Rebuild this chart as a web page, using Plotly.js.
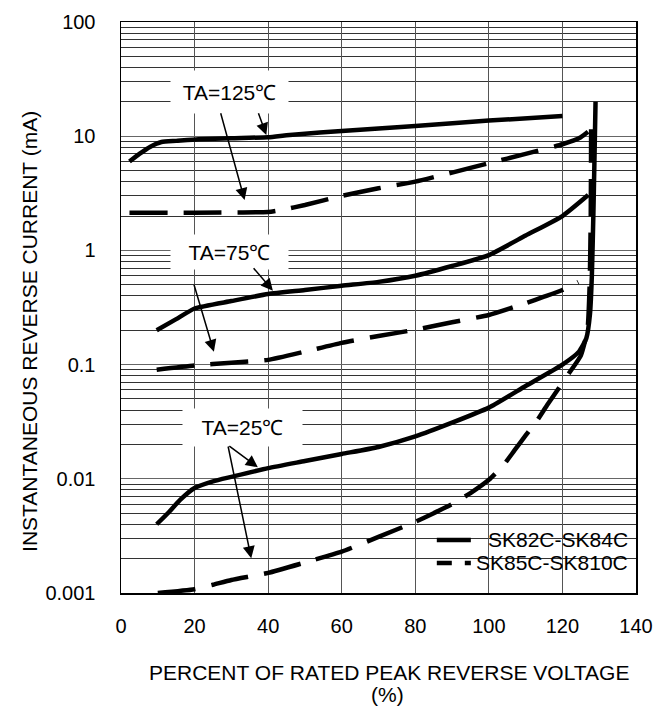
<!DOCTYPE html>
<html>
<head>
<meta charset="utf-8">
<script src="https://cdn.plot.ly/plotly-3.0.1.min.js"></script>
<style>html,body{margin:0;padding:0;background:#fff;}#chart{width:668px;height:708px;}</style>
</head>
<body>
<div id="chart"></div>
<script>
// ---- data ----
var s125_x = [2.3, 5, 8, 11, 15, 21, 30, 40, 45, 50, 58, 70, 80, 100, 120];
var s125_y = [6, 7, 8.1, 8.9, 9.1, 9.4, 9.6, 9.8, 10.2, 10.5, 11, 11.7, 12.3, 13.7, 15];

var d125_x = [2.3, 20, 40, 44, 50, 60, 70, 80, 90, 100, 110, 120, 125, 127.8];
var d125_y = [2.14, 2.14, 2.17, 2.27, 2.5, 3.0, 3.5, 4.0, 4.8, 5.8, 7.0, 8.5, 9.8, 11.5];

var s75_x = [9.7, 15, 20, 30, 40, 50, 60, 70, 80, 90, 100, 110, 120, 127];
var s75_y = [0.2, 0.25, 0.31, 0.36, 0.415, 0.45, 0.49, 0.53, 0.6, 0.73, 0.91, 1.35, 2.0, 3.05];

var d75_x = [9.7, 20, 30, 40, 50, 60, 70, 80, 90, 100, 110, 115, 120, 124.3];
var d75_y = [0.09, 0.098, 0.104, 0.11, 0.13, 0.155, 0.178, 0.202, 0.235, 0.272, 0.345, 0.393, 0.45, 0.53];

var s25_x = [9.7, 13, 16, 20, 25, 30, 40, 50, 60, 70, 80, 90, 100, 110, 120, 124.5, 126.5, 127.5, 128, 128.4, 128.7, 129];
var s25_y = [0.004, 0.0051, 0.0065, 0.0083, 0.0095, 0.0104, 0.0124, 0.0143, 0.0165, 0.019, 0.0235, 0.031, 0.042, 0.065, 0.1, 0.13, 0.17, 0.28, 0.6, 2, 6, 20];

var d25_x = [10, 20, 25, 30, 40, 50, 60, 70, 80, 85, 90, 95, 100, 104, 107, 110, 113, 116, 119, 122, 125, 126.8, 127.4, 127.7, 127.8];
var d25_y = [0.001, 0.00108, 0.00118, 0.0013, 0.0015, 0.00185, 0.0023, 0.0031, 0.0042, 0.005, 0.006, 0.0075, 0.0098, 0.0132, 0.0178, 0.024, 0.032, 0.045, 0.062, 0.086, 0.12, 0.2, 0.5, 2, 11.5];

var xTicks = [0, 20, 40, 60, 80, 100, 120, 140];
var yTicks = [0.001, 0.01, 0.1, 1, 10, 100];
var yTickText = ['0.001', '0.01', '0.1', '1', '10', '100'];
var seriesNames = ['SK82C-SK84C', 'SK85C-SK810C'];
var tempLabels = ['TA=125℃', 'TA=75℃', 'TA=25℃'];

// ---- styling ----
var FONT = 'Liberation Sans, Arial, sans-serif';
var solid = {color: '#000', width: 4.5, shape: 'spline', smoothing: 0.5};
var dashed = {color: '#000', width: 4.5, shape: 'spline', smoothing: 0.5, dash: '38px,16px'};

function tr(x, y, line) {
  return {x: x, y: y, type: 'scatter', mode: 'lines', line: line, hoverinfo: 'skip', showlegend: false};
}

var data = [
  tr(s125_x, s125_y, solid),
  tr(d125_x, d125_y, dashed),
  tr(s75_x, s75_y, solid),
  tr(d75_x, d75_y, dashed),
  tr(s25_x, s25_y, solid),
  tr(d25_x, d25_y, dashed)
];

function box(text, x, y, w, h) {
  return {x: x, y: y, xref: 'x', yref: 'y', text: text, showarrow: false,
    bgcolor: '#fff', width: w, height: h, font: {family: FONT, size: 21, color: '#000'},
    xanchor: 'center', yanchor: 'middle'};
}
function arrow(x, y, ax, ay) {
  return {x: x, y: y, xref: 'x', yref: 'y', text: '', showarrow: true,
    ax: ax, ay: ay, arrowhead: 2, arrowsize: 1.6, arrowwidth: 1.5, arrowcolor: '#000', standoff: 0, startstandoff: 0};
}

var annotations = [
  box(tempLabels[0], 29.4, 1.391, 115, 40),
  box(tempLabels[1], 29.4, -0.018, 115, 32),
  box(tempLabels[2], 33.1, -1.551, 117, 35),
  arrow(39.5, 1.0105, -8.4, -23.3),
  arrow(33.6, 0.441, -24.3, -88.3),
  arrow(41.3, -0.353, -20.6, -24),
  arrow(25.25, -0.887, -20.3, -68.4),
  arrow(37.2, -1.899, -30, -22.3),
  arrow(35.4, -2.696, -23.4, -113.3),
  // legend texts
  {xref: 'paper', yref: 'paper', x: 0.988, y: (593 - 539) / 571, text: seriesNames[0], showarrow: false,
    xanchor: 'right', yanchor: 'middle', font: {family: FONT, size: 21, color: '#000'}},
  {xref: 'paper', yref: 'paper', x: 0.988, y: (593 - 562) / 571, text: seriesNames[1], showarrow: false,
    xanchor: 'right', yanchor: 'middle', font: {family: FONT, size: 21, color: '#000'}},
  // axis titles
  {xref: 'paper', yref: 'paper', x: (389 - 121.5) / 514.5, y: (593 - 672) / 571, text: 'PERCENT OF RATED PEAK REVERSE VOLTAGE',
    showarrow: false, xanchor: 'center', yanchor: 'middle', font: {family: FONT, size: 21, color: '#000'}},
  {xref: 'paper', yref: 'paper', x: (388 - 121.5) / 514.5, y: (593 - 695) / 571, text: '(%)',
    showarrow: false, xanchor: 'center', yanchor: 'middle', font: {family: FONT, size: 21, color: '#000'}},
  {xref: 'paper', yref: 'paper', x: (29.5 - 121.5) / 514.5, y: (593 - 331) / 571, text: 'INSTANTANEOUS REVERSE CURRENT (mA)',
    textangle: -90, showarrow: false, xanchor: 'center', yanchor: 'middle', font: {family: FONT, size: 21, color: '#000'}}
];

function px(p) { return (p - 121.5) / 514.5; }
function py(p) { return (593 - p) / 571; }

var shapes = [
  {type: 'rect', xref: 'paper', yref: 'paper', x0: px(408), x1: 1, y0: 0, y1: py(518),
    fillcolor: '#fff', line: {width: 0}, layer: 'between'},
  {type: 'line', xref: 'paper', yref: 'paper', x0: px(437), x1: px(471), y0: py(540), y1: py(540),
    line: {color: '#000', width: 4.5}},
  {type: 'line', xref: 'paper', yref: 'paper', x0: px(437), x1: px(471), y0: py(563), y1: py(563),
    line: {color: '#000', width: 4.5, dash: '15px,13px'}}
];

var layout = {
  width: 668, height: 708,
  margin: {l: 121, r: 32, t: 22, b: 115, pad: 0},
  paper_bgcolor: '#fff', plot_bgcolor: '#fff',
  showlegend: false,
  font: {family: FONT, size: 20, color: '#000'},
  xaxis: {
    range: [0, 140], tickvals: xTicks, ticktext: xTicks.map(String), ticks: '',
    showgrid: true, gridcolor: '#555', gridwidth: 1, zeroline: false,
    showline: true, linecolor: '#000', linewidth: 1.5, mirror: true,
    tickfont: {family: FONT, size: 20, color: '#000'}, ticklabelstandoff: 14
  },
  yaxis: {
    type: 'log', range: [-3, 2], tickvals: yTicks, ticktext: yTickText, ticks: '',
    showgrid: true, gridcolor: '#666', gridwidth: 1.2, zeroline: false,
    showline: true, linecolor: '#000', linewidth: 1.5, mirror: true,
    minor: {dtick: 'D1', showgrid: true, gridcolor: '#333', gridwidth: 1, ticks: ''},
    tickfont: {family: FONT, size: 20, color: '#000'}, ticklabelstandoff: 20
  },
  annotations: annotations,
  shapes: shapes
};

Plotly.newPlot('chart', data, layout, {displayModeBar: false, staticPlot: true});
</script>
</body>
</html>
